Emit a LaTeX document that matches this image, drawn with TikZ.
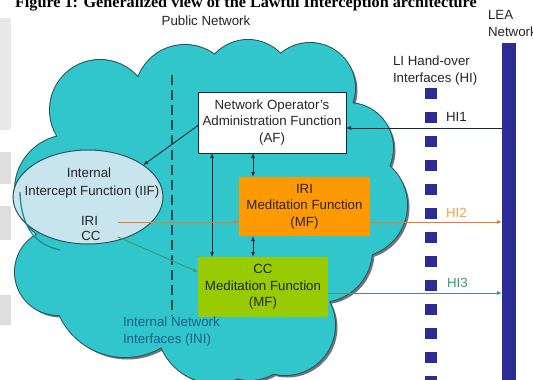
\documentclass[tikz,border=0pt]{standalone}
\usepackage{fontspec}
\setmainfont{Liberation Sans}
\newfontfamily\capfont{Liberation Serif}
\usetikzlibrary{arrows.meta,shapes.geometric}
\definecolor{cloudfill}{RGB}{48,198,204}
\definecolor{cloudline}{RGB}{38,84,96}
\definecolor{shadowc}{RGB}{110,118,122}
\definecolor{iiffill}{RGB}{200,228,236}
\definecolor{iriorange}{RGB}{255,153,0}
\definecolor{ccgreen}{RGB}{153,204,0}
\definecolor{leablue}{RGB}{44,44,150}
\definecolor{hiorange}{RGB}{240,120,40}
\definecolor{hilabel}{RGB}{245,160,70}
\definecolor{higreen}{RGB}{60,155,110}
\definecolor{ininavy}{RGB}{28,96,136}
\definecolor{darkline}{RGB}{20,40,60}
\definecolor{dashc}{RGB}{25,75,85}
\definecolor{arcteal}{RGB}{30,140,150}
\definecolor{pagegray}{RGB}{222,222,222}
\begin{document}
\begin{tikzpicture}[x=1pt,y=-1pt,
  every node/.style={inner sep=0pt, outer sep=0pt},
  txt/.style={font=\fontsize{13.3}{16.5}\selectfont, text=black!85, align=center},
  afbox/.style={txt, draw=darkline, line width=0.8pt, fill=white, minimum width=148pt, minimum height=61pt},
  mfbox/.style={txt, minimum width=131pt, minimum height=59pt},
  tip/.style={-{Latex[length=5pt,width=4pt]}},
  dtip/.style={{Latex[length=5pt,width=4pt]}-{Latex[length=5pt,width=4pt]}}]
\clip (0,0) rectangle (533,380);
\fill[white] (0,0) rectangle (533,380);
% page artefacts
\fill[pagegray!70] (0,18) rectangle (11,130);
\fill[pagegray] (0,152) rectangle (11,184);
\fill[pagegray] (0,206) rectangle (11,240);
\fill[pagegray] (0,295) rectangle (11,325);
% caption (cut off at the top, as in the source)
\node[anchor=base west, font=\capfont\bfseries\fontsize{16.2}{18}\selectfont] (cap) at (15,8) {Figure 1: Generalized view of the Lawful Interception architecture};
% cloud
\def\cloudlist{100/110/50, 185/95/50, 248/85/45, 310/88/45, 348/148/45, 355/205/52, 320/250/52, 285/325/50, 250/335/45, 215/325/58, 125/285/72, 58/272/43, 70/190/55}
\foreach \cx/\cy/\r in \cloudlist {\fill[shadowc] (\cx+2.5,\cy+2.5) circle (\r pt);}
\foreach \cx/\cy/\r in \cloudlist {\draw[cloudline, line width=2pt, fill=cloudfill] (\cx,\cy) circle (\r pt);}
\foreach \cx/\cy/\r in \cloudlist {\fill[cloudfill] (\cx,\cy) circle (\r pt);}
\fill[cloudfill] (100,110) rectangle (320,300);
% dashed INI line
\coordinate (dtop) at (172,75);
\coordinate (dbot) at (172,316);
\draw[dashc, line width=2.2pt, dash pattern=on 10pt off 5pt] (dtop) -- (dbot);
% IIF
\node[ellipse, draw=cloudline, line width=1pt, fill=iiffill, minimum width=150pt, minimum height=94pt] (iif) at (88,197) {};
\draw[arcteal, line width=1.3pt] (20,192) .. controls (21,228) and (36,245) .. (60,250);
\node[txt, anchor=base] (iif1) at (89,177.5) {Internal};
\node[txt, anchor=base] (iif2) at (92,195.5) {Intercept Function (IIF)};
\node[txt, anchor=base] (iif3) at (89.5,225.5) {IRI};
\node[txt, anchor=base] (iif4) at (91,240.5) {CC};
% boxes
\node[afbox] (af) at (272,122.5) {Network Operator's\\Administration Function\\(AF)};
\node[mfbox, fill=iriorange] (irimf) at (304.5,206.5) {IRI\\Meditation Function\\(MF)};
\node[mfbox, fill=ccgreen, minimum width=130pt, minimum height=60pt] (ccmf) at (263,287) {CC\\Meditation Function\\(MF)};
% LEA network bar and HI squares
\fill[leablue] (502,43) rectangle (516,385);
\coordinate (lea1) at (502,128);
\coordinate (lea2) at (502,222);
\coordinate (lea3) at (502,293);
\foreach \i in {0,...,12} {\fill[leablue] (425,88+24*\i) rectangle +(12,11);}
% connectors
\coordinate (va) at (212,0);
\coordinate (vb) at (253,0);
\draw[darkline, line width=0.9pt, dtip] (af.south -| va) -- (ccmf.north -| va);
\draw[darkline, line width=0.9pt, dtip] (af.south -| vb) -- (irimf.north -| vb);
\draw[darkline, line width=0.9pt, dtip] (irimf.south -| vb) -- (ccmf.north -| vb);
\draw[darkline, line width=0.9pt, tip] (lea1) -- (af.east |- lea1);
\draw[darkline, line width=0.9pt, tip] ([yshift=-3pt]af.west) -- (iif.30);
\coordinate (iriout) at (118,222);
\coordinate (ccout) at (118,237);
\draw[hiorange, line width=1pt, tip] (iriout) -- (irimf.west |- iriout);
\draw[hiorange, line width=1pt, tip] (irimf.east |- iriout) -- (lea2);
\draw[higreen, line width=1pt, tip] (ccout) -- ([yshift=15pt]ccmf.west);
\draw[higreen, line width=1pt, tip] (ccmf.east |- lea3) -- (lea3);
% labels
\node[txt, anchor=base] (pub) at (206,25.5) {Public Network};
\node[txt, anchor=north west, align=left] (lea) at (488,10.5) {LEA\\Network};
\node[txt, anchor=north west, align=left] (hi) at (393,56) {LI Hand-over\\Interfaces (HI)};
\node[txt, anchor=base west] (hi1) at (446,121) {HI1};
\node[txt, anchor=base west, text=hilabel] (hi2) at (446,217) {HI2};
\node[txt, anchor=base west, text=higreen] (hi3) at (447,287) {HI3};
\node[txt, anchor=north west, align=left, text=ininavy] (ini) at (123,317) {Internal Network\\Interfaces (INI)};
\end{tikzpicture}
\end{document}
